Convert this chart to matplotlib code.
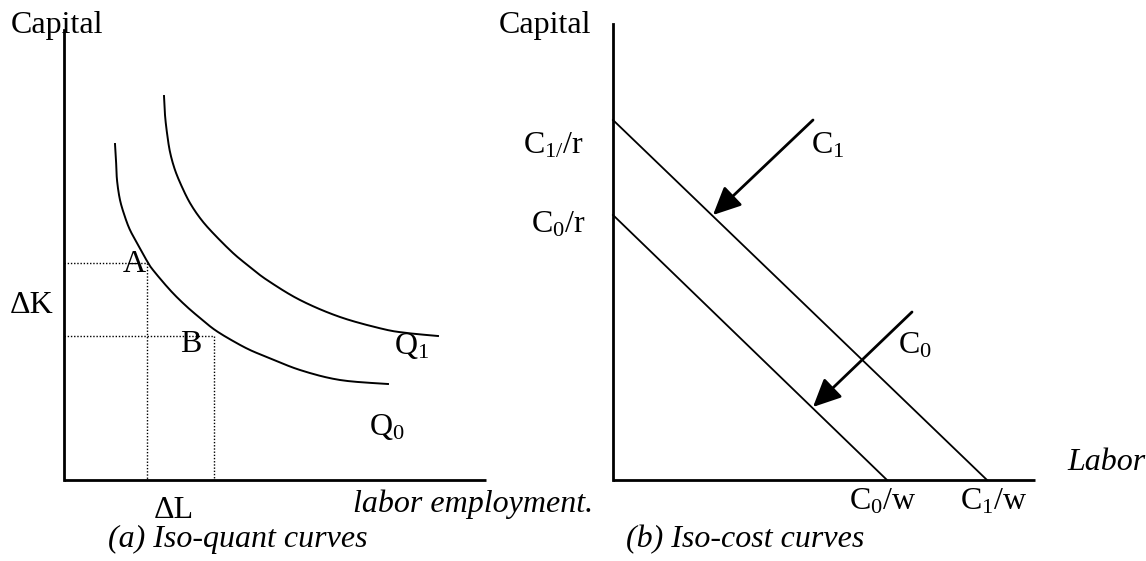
import matplotlib
matplotlib.use("Agg")
import matplotlib.pyplot as plt
import numpy as np

plt.rcParams['font.family'] = ['Liberation Serif', 'DejaVu Serif']
plt.rcParams['mathtext.fontset'] = 'custom'
plt.rcParams['mathtext.rm'] = 'Liberation Serif'
plt.rcParams['mathtext.it'] = 'Liberation Serif:italic'

# ---- data (diagram coordinates, y grows downward) ----
# panel (a): iso-quant curves
q0_x = [115, 116, 117, 120, 125, 130, 137, 147, 153, 170, 185, 200, 215, 233, 250, 267, 300, 340, 388]
q0_y = [144, 160, 180, 200, 217, 230, 243, 261, 270, 290, 305, 318, 330, 341, 350, 357, 370, 380, 384]
q1_x = [164, 165, 167, 170, 175, 182, 190, 200, 212, 233, 250, 267, 300, 340, 383, 407, 438]
q1_y = [96, 115, 133, 152, 170, 187, 203, 218, 232, 253, 267, 280, 300, 317, 329, 333, 336]
point_a = (147, 263)
point_b = (214, 336)
axis_a = dict(x0=64, y_top=30, y_base=480, x_end=486)

# panel (b): iso-cost lines
c1_line = ([613, 987], [120, 480])
c0_line = ([613, 887], [215, 480])
arrow_c1 = ((813, 120), (713, 215))
arrow_c0 = ((912, 312), (813, 407))
axis_b = dict(x0=613, y_top=24, y_base=480, x_end=1035)


def smooth(xs, ys, n=12):
    """Catmull-Rom rendering through the read points (for a smooth stroke)."""
    p = np.column_stack([xs, ys]).astype(float)
    p = np.vstack([p[0], p, p[-1]])
    out = []
    for i in range(1, len(p) - 2):
        p0, p1, p2, p3 = p[i - 1], p[i], p[i + 1], p[i + 2]
        t = np.linspace(0, 1, n, endpoint=False)[:, None]
        seg = 0.5 * ((2 * p1) + (-p0 + p2) * t + (2 * p0 - 5 * p1 + 4 * p2 - p3) * t ** 2
                     + (-p0 + 3 * p1 - 3 * p2 + p3) * t ** 3)
        out.append(seg)
    out.append(p[-2][None, :])
    out = np.vstack(out)
    return out[:, 0], out[:, 1]


fig = plt.figure(figsize=(11.46, 5.61), dpi=100)
ax = fig.add_axes([0, 0, 1, 1])
ax.set_xlim(0, 1146)
ax.set_ylim(561, 0)
ax.axis('off')

FS = 23
AX_LW = 2.0
CURVE_LW = 1.4
DOT = dict(color='black', lw=1.0, linestyle=(0, (1, 1.3)))

# axes of panel (a)
ax.plot([axis_a['x0'], axis_a['x0']], [axis_a['y_top'], axis_a['y_base']], color='black', lw=AX_LW, solid_capstyle='projecting')
ax.plot([axis_a['x0'], axis_a['x_end']], [axis_a['y_base'], axis_a['y_base']], color='black', lw=AX_LW, solid_capstyle='butt')
ax.plot(*smooth(q0_x, q0_y), color='black', lw=CURVE_LW)
ax.plot(*smooth(q1_x, q1_y), color='black', lw=CURVE_LW)
for (px, py) in (point_a, point_b):
    ax.plot([axis_a['x0'], px], [py, py], **DOT)
    ax.plot([px, px], [py, axis_a['y_base']], **DOT)

ax.text(11, 33, 'Capital', fontsize=FS, ha='left', va='baseline')
ax.text(123, 272, 'A', fontsize=FS, ha='left', va='baseline')
ax.text(180, 352, 'B', fontsize=FS, ha='left', va='baseline')
ax.text(10, 313, 'ΔK', fontsize=FS, ha='left', va='baseline')
ax.text(154, 518, 'ΔL', fontsize=FS, ha='left', va='baseline')
ax.text(353, 512, 'labor employment.', fontsize=FS, style='italic', ha='left', va='baseline')
ax.text(238, 547, '(a) Iso-quant curves', fontsize=FS, style='italic', ha='center', va='baseline')
ax.text(394, 354, r'$\mathrm{Q_1}$', fontsize=FS, ha='left', va='baseline')
ax.text(369, 435, r'$\mathrm{Q_0}$', fontsize=FS, ha='left', va='baseline')

# axes of panel (b)
ax.plot([axis_b['x0'], axis_b['x0']], [axis_b['y_top'], axis_b['y_base']], color='black', lw=AX_LW, solid_capstyle='projecting')
ax.plot([axis_b['x0'], axis_b['x_end']], [axis_b['y_base'], axis_b['y_base']], color='black', lw=AX_LW, solid_capstyle='butt')
ax.plot(*c1_line, color='black', lw=1.3)
ax.plot(*c0_line, color='black', lw=1.3)
for start, end in (arrow_c1, arrow_c0):
    ax.annotate('', xy=end, xytext=start,
                arrowprops=dict(arrowstyle='-|>,head_length=0.85,head_width=0.4', color='black',
                                lw=2.0, shrinkA=0, shrinkB=0, mutation_scale=20))

ax.text(499, 33, 'Capital', fontsize=FS, ha='left', va='baseline')
ax.text(523, 153, r'$\mathrm{C_{1/}}$/r', fontsize=FS, ha='left', va='baseline')
ax.text(531, 232, r'$\mathrm{C_0}$/r', fontsize=FS, ha='left', va='baseline')
ax.text(811, 153, r'$\mathrm{C_1}$', fontsize=FS, ha='left', va='baseline')
ax.text(898, 353, r'$\mathrm{C_0}$', fontsize=FS, ha='left', va='baseline')
ax.text(1067, 470, 'Labor', fontsize=FS, style='italic', ha='left', va='baseline')
ax.text(849, 510, r'$\mathrm{C_0}$/w', fontsize=FS, ha='left', va='baseline')
ax.text(960, 510, r'$\mathrm{C_1}$/w', fontsize=FS, ha='left', va='baseline')
ax.text(745, 547, '(b) Iso-cost curves', fontsize=FS, style='italic', ha='center', va='baseline')

fig.savefig('out.png', dpi=100)
